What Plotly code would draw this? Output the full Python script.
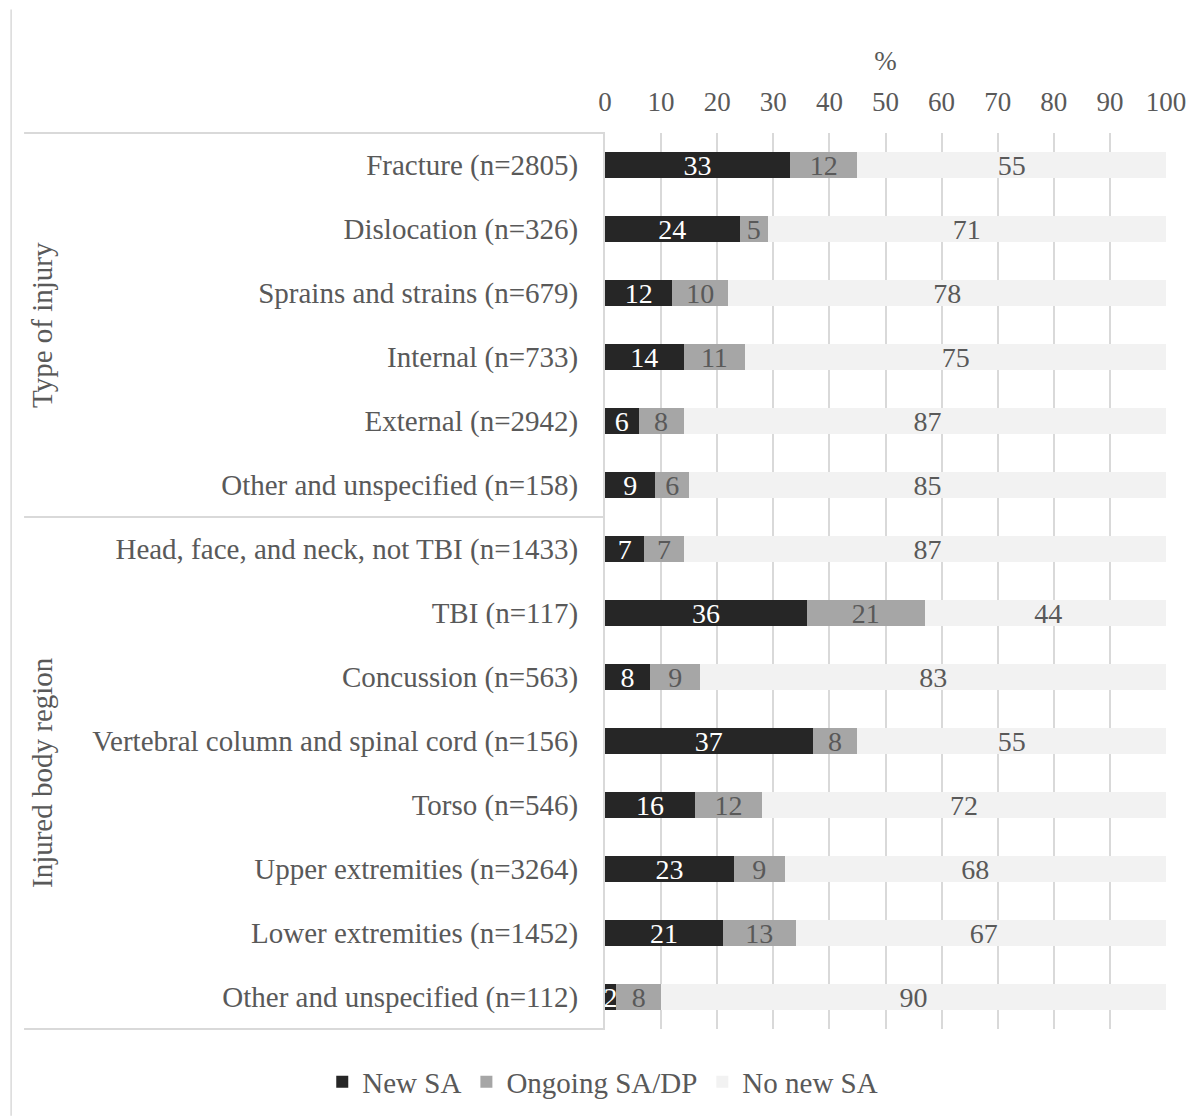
import plotly.graph_objects as go

categories = [
    "Fracture (n=2805)",
    "Dislocation (n=326)",
    "Sprains and strains (n=679)",
    "Internal (n=733)",
    "External (n=2942)",
    "Other and unspecified (n=158)",
    "Head, face, and neck, not TBI (n=1433)",
    "TBI (n=117)",
    "Concussion (n=563)",
    "Vertebral column and spinal cord (n=156)",
    "Torso (n=546)",
    "Upper extremities (n=3264)",
    "Lower extremities (n=1452)",
    "Other and unspecified (n=112)",
]
cat_keys = [f"c{i}" for i in range(len(categories))]

new_sa = [33, 24, 12, 14, 6, 9, 7, 36, 8, 37, 16, 23, 21, 2]
ongoing = [12, 5, 10, 11, 8, 6, 7, 21, 9, 8, 12, 9, 13, 8]
no_new = [55, 71, 78, 75, 87, 85, 87, 44, 83, 55, 72, 68, 67, 90]

series_names = ["New SA", "Ongoing SA/DP", "No new SA"]
series_colors = ["#262626", "#A6A6A6", "#F2F2F2"]
label_colors = ["#FFFFFF", "#595959", "#595959"]

groups = ["Type of injury", "Injured body region"]
tick_vals = [0, 10, 20, 30, 40, 50, 60, 70, 80, 90, 100]

FONT = "Liberation Serif"
TXT = "#595959"
FS_CAT = 29
FS_TICK = 27
FS_LBL = 28

fig = go.Figure()
for name, vals, col, lc in zip(series_names, [new_sa, ongoing, no_new], series_colors, label_colors):
    fig.add_trace(go.Bar(
        y=cat_keys, x=vals, name=name, orientation="h",
        marker=dict(color=col, line=dict(width=0)),
        text=[str(v) for v in vals], textposition="inside", textangle=0,
        insidetextanchor="middle", constraintext="none",
        textfont=dict(family=FONT, size=FS_LBL, color=lc),
        cliponaxis=True,
    ))

fig.update_layout(
    width=1198, height=1119,
    barmode="stack", bargap=0.59,
    plot_bgcolor="white", paper_bgcolor="white",
    margin=dict(l=605, r=30, t=133, b=87),
    font=dict(family=FONT, size=FS_CAT, color=TXT),
    uniformtext=dict(minsize=FS_LBL, mode="show"),
    showlegend=True,
    legend=dict(orientation="h", x=-0.504, xanchor="left", y=-0.059, yanchor="middle",
                font=dict(family=FONT, size=FS_CAT, color=TXT), traceorder="normal",
                itemwidth=30),
    xaxis=dict(side="top", range=[0, 100], tickvals=tick_vals, ticktext=[str(t) for t in tick_vals],
               showgrid=True, gridcolor="#D9D9D9", gridwidth=2, zeroline=False, showline=False,
               ticks="", ticklabelstandoff=16,
               title=dict(text="%", standoff=8, font=dict(family=FONT, size=FS_TICK, color=TXT)),
               tickfont=dict(family=FONT, size=FS_TICK, color=TXT)),
    yaxis=dict(categoryorder="array", categoryarray=cat_keys, autorange="reversed",
               tickvals=cat_keys, ticktext=categories,
               showline=True, linecolor="#D9D9D9", linewidth=2, showgrid=False,
               ticks="", ticklabelstandoff=19,
               tickfont=dict(family=FONT, size=FS_CAT, color=TXT)),
)

px_per = 563.0
def xp(px):
    return (px - 605) / px_per

line_style = dict(color="#D9D9D9", width=2)
fig.add_shape(type="line", xref="paper", yref="paper", x0=xp(22), x1=0, y0=1, y1=1, line=line_style)
fig.add_shape(type="line", xref="paper", yref="paper", x0=xp(22), x1=0, y0=0, y1=0, line=line_style)
fig.add_shape(type="line", xref="paper", yref="y", x0=xp(22), x1=0, y0=5.5, y1=5.5, line=line_style)
fig.add_shape(type="line", xref="paper", yref="paper", x0=xp(9), x1=xp(9),
              y0=(1032 - 1119) / 899.0, y1=(1032 - 9) / 899.0, line=dict(color="#D9D9D9", width=1.5))

for g, yc in zip(groups, [2.5, 9.5]):
    fig.add_annotation(text=g, xref="paper", yref="y", x=xp(40), y=yc, textangle=-90,
                       xanchor="center", yanchor="middle",
                       showarrow=False, font=dict(family=FONT, size=FS_CAT, color=TXT))

fig.write_html("out.html")
